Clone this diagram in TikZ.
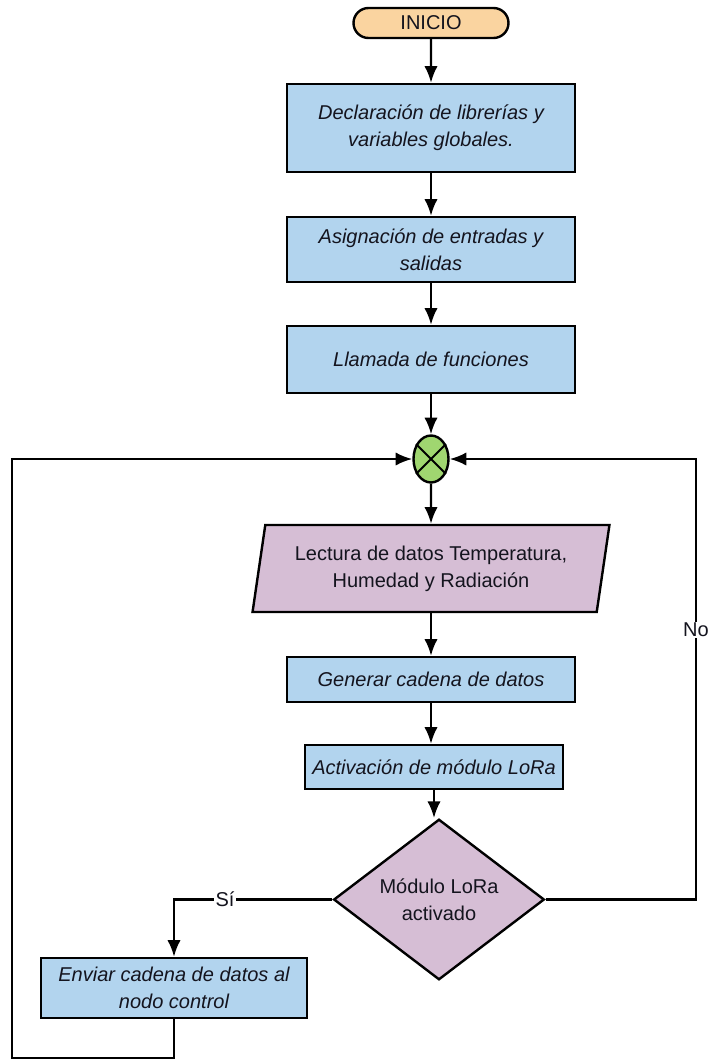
\documentclass[tikz,border=0pt]{standalone}
\usepackage{fontspec}
\setmainfont{Liberation Sans}
\usetikzlibrary{shapes.geometric,shapes.misc,arrows.meta}
\definecolor{boxblue}{RGB}{178,212,238}
\definecolor{boxpurple}{RGB}{214,190,213}
\definecolor{jgreen}{RGB}{160,214,112}
\definecolor{startorange}{RGB}{250,212,160}
\definecolor{inkc}{RGB}{20,20,30}
\begin{document}
\begin{tikzpicture}[x=0.75pt,y=-0.75pt,line width=1.8pt,
  txt/.style={font=\fontsize{15}{20}\selectfont, text=inkc},
  proc/.style={draw, fill=boxblue, inner sep=0pt, align=center, text=inkc,
    font=\fontsize{15}{20}\selectfont\itshape},
  arr/.style={-{Latex[length=12.5pt,width=10pt]}},
  lbl/.style={fill=white, inner sep=1pt, text=inkc, font=\fontsize{15}{20}\selectfont}]
\useasboundingbox (0,0) rectangle (708,1061);
\node[draw, fill=startorange, rounded rectangle, inner sep=0pt, minimum width=116.25pt, minimum height=22.5pt, txt] (start) at (431,23) {INICIO};
\node[proc, minimum width=216pt, minimum height=66pt] (b1) at (431,128) {Declaración de librerías y\\variables globales.};
\node[proc, minimum width=216pt, minimum height=48.75pt] (b2) at (431,249.5) {Asignación de entradas y\\salidas};
\node[proc, minimum width=216pt, minimum height=50.25pt] (b3) at (431,359.5) {Llamada de funciones};
\node[draw, fill=jgreen, ellipse, inner sep=0pt, minimum width=26.25pt, minimum height=35.25pt] (j) at (431,459) {};
\draw[line width=1.5pt] (j.45) -- (j.225) (j.135) -- (j.315);
\node[draw, fill=boxpurple, trapezium, trapezium left angle=77, trapezium right angle=103, trapezium stretches=true, inner sep=0pt, minimum width=268.5pt, minimum height=65.25pt, align=center, txt] (read) at (431,568.5) {Lectura de datos Temperatura,\\Humedad y Radiación};
\node[proc, minimum width=216pt, minimum height=33.75pt] (gen) at (431,679.5) {Generar cadena de datos};
\node[proc, minimum width=193.5pt, minimum height=33pt] (lora) at (434,767) {Activación de módulo LoRa};
\node[draw, fill=boxpurple, diamond, inner sep=0pt, minimum width=158pt, minimum height=99.75pt, align=center, txt] (dec) at (439,899.5) {Módulo LoRa\\activado};
\node[proc, minimum width=199.5pt, minimum height=45pt] (send) at (174,988) {Enviar cadena de datos al\\nodo control};
\coordinate (nr) at (696,459);
\coordinate (lb) at (12,1058);
\coordinate (lt) at (12,459);
\draw[arr] (start) -- (b1);
\draw[arr] (b1) -- (b2);
\draw[arr] (b2) -- (b3);
\draw[arr] (b3) -- (j);
\draw[arr] (j) -- (read);
\draw[arr] (read.south -| gen.north) -- (gen);
\draw[arr] (gen.south) -- (gen.south |- lora.north);
\draw[arr] (lora.south) -- (lora.south |- dec.north);
\draw[arr] (dec.east) -| (nr) -- (j.east);
\draw[arr] (dec.west) -| (send.north);
\draw[arr] (send.south) |- (lb) -- (lt) -- (j.west);
\node[lbl] (si) at (225,899.5) {Sí};
\node[lbl] (no) at (696,630) {No};
\end{tikzpicture}
\end{document}
